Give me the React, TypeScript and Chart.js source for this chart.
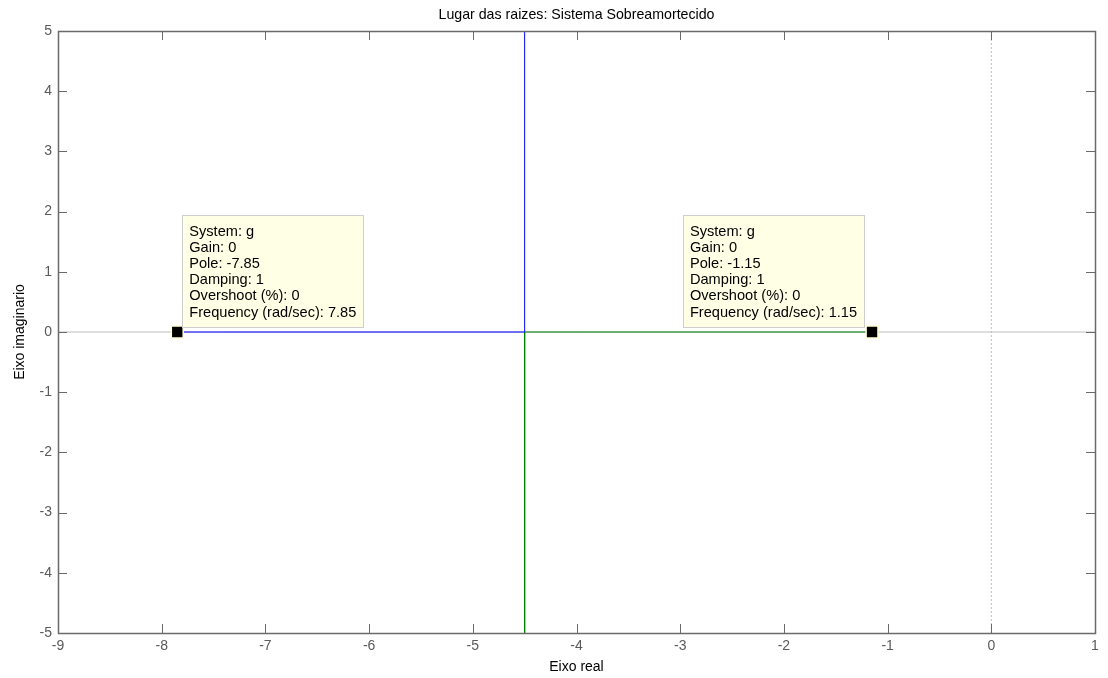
import React, { useEffect, useRef } from 'react';
import { Chart, registerables } from 'chart.js';

Chart.register(...registerables);

const xTicks = [-9, -8, -7, -6, -5, -4, -3, -2, -1, 0, 1];
const yTicks = [-5, -4, -3, -2, -1, 0, 1, 2, 3, 4, 5];
const poles = [-7.85, -1.15];
const blueX = [-7.85, -4.5, -4.5];
const blueY = [0, 0, 5];
const greenX = [-1.15, -4.5, -4.5];
const greenY = [0, 0, -5];
const tipLinesLeft = ['System: g', 'Gain: 0', 'Pole: -7.85', 'Damping: 1', 'Overshoot (%): 0', 'Frequency (rad/sec): 7.85'];
const tipLinesRight = ['System: g', 'Gain: 0', 'Pole: -1.15', 'Damping: 1', 'Overshoot (%): 0', 'Frequency (rad/sec): 1.15'];

const FONT = 'Liberation Sans, Arial, Helvetica, sans-serif';
const AXIS_COLOR = '#6a6a6a';
const TEXT_GRAY = '#5a5a5a';
const FS = 14;

const framePlugin = {
  id: 'frameTicks',
  afterDatasetsDraw(chart: any) {
    const { ctx, chartArea: a, scales } = chart;
    const xs = scales.x;
    const ys = scales.y;
    ctx.save();
    ctx.strokeStyle = AXIS_COLOR;
    ctx.lineWidth = 1;
    const tl = 9;
    ctx.beginPath();
    xTicks.forEach((v) => {
      const px = Math.round(xs.getPixelForValue(v)) + 0.5;
      ctx.moveTo(px, a.bottom);
      ctx.lineTo(px, a.bottom - tl);
      ctx.moveTo(px, a.top);
      ctx.lineTo(px, a.top + tl);
    });
    yTicks.forEach((v) => {
      const py = Math.round(ys.getPixelForValue(v)) + 0.5;
      ctx.moveTo(a.left, py);
      ctx.lineTo(a.left + tl, py);
      ctx.moveTo(a.right, py);
      ctx.lineTo(a.right - tl, py);
    });
    ctx.stroke();
    ctx.lineWidth = 1.5;
    ctx.strokeRect(Math.round(a.left) + 0.5, Math.round(a.top) + 0.5, Math.round(a.right - a.left), Math.round(a.bottom - a.top));
    ctx.restore();
  },
};

const tipsPlugin = {
  id: 'dataTips',
  afterDraw(chart: any) {
    const { ctx, scales } = chart;
    const xs = scales.x;
    const ys = scales.y;
    const tips = [
      { pole: poles[0], lines: tipLinesLeft, side: 'right' },
      { pole: poles[1], lines: tipLinesRight, side: 'left' },
    ];
    ctx.save();
    ctx.font = `14.6px ${FONT}`;
    tips.forEach((t) => {
      const px = xs.getPixelForValue(t.pole);
      const py = ys.getPixelForValue(0);
      const w = Math.max(...t.lines.map((l) => ctx.measureText(l).width)) + 14;
      const h = 112;
      const left = t.side === 'right' ? px + 5 : px - 8 - w;
      const top = py - 5 - h;
      ctx.fillStyle = '#ffffe6';
      ctx.fillRect(Math.round(left) + 0.5, Math.round(top) + 0.5, Math.round(w), h);
      ctx.strokeStyle = '#cfcfcf';
      ctx.lineWidth = 1;
      ctx.strokeRect(Math.round(left) + 0.5, Math.round(top) + 0.5, Math.round(w), h);
      ctx.fillStyle = '#000';
      ctx.textBaseline = 'middle';
      ctx.textAlign = 'left';
      t.lines.forEach((l, i) => {
        ctx.fillText(l, left + 7, top + 16.5 + i * 16.2);
      });
    });
    ctx.restore();
  },
};

export default function App() {
  const ref = useRef<HTMLCanvasElement | null>(null);
  useEffect(() => {
    document.body.style.margin = '0';
    const canvas = ref.current!;
    const chart = new Chart(canvas, {
      type: 'scatter',
      data: {
        datasets: [
          {
            label: 'poles',
            data: poles.map((p) => ({ x: p, y: 0 })),
            showLine: false,
            pointStyle: 'rect',
            pointRadius: 8.4,
            backgroundColor: '#000',
            borderColor: '#ffffd0',
            borderWidth: 1.5,
            order: 1,
          },
          {
            label: 'blue',
            data: blueX.map((x, i) => ({ x, y: blueY[i] })),
            showLine: true,
            borderColor: '#0000ff',
            borderWidth: 1,
            pointRadius: 0,
            order: 5,
          },
          {
            label: 'green',
            data: greenX.map((x, i) => ({ x, y: greenY[i] })),
            showLine: true,
            borderColor: '#008000',
            borderWidth: 1,
            pointRadius: 0,
            order: 5,
          },
          {
            label: 'zeroH',
            data: [{ x: xTicks[0], y: 0 }, { x: xTicks[xTicks.length - 1], y: 0 }],
            showLine: true,
            borderColor: '#bdbdbd',
            borderWidth: 1,
            pointRadius: 0,
            order: 10,
          },
          {
            label: 'zeroV',
            data: [{ x: 0, y: yTicks[0] }, { x: 0, y: yTicks[yTicks.length - 1] }],
            showLine: true,
            borderColor: '#bdbdbd',
            borderDash: [2, 2],
            borderWidth: 1,
            pointRadius: 0,
            order: 10,
          },
        ],
      },
      options: {
        animation: false,
        responsive: false,
        layout: { padding: { left: 0, right: 13, top: 0, bottom: 0 } },
        plugins: {
          legend: { display: false },
          tooltip: { enabled: false },
          title: {
            display: true,
            text: 'Lugar das raizes: Sistema Sobreamortecido',
            color: '#000',
            fullSize: false,
            font: { size: 14.2, family: FONT, weight: 'normal' },
            padding: { top: 6.5, bottom: 7.5 },
          },
        },
        scales: {
          x: {
            type: 'linear',
            min: -9,
            max: 1,
            afterBuildTicks: (s: any) => {
              s.ticks = xTicks.map((v) => ({ value: v }));
            },
            afterFit: (s: any) => {
              s.height = 45;
            },
            grid: { display: false, drawTicks: false },
            border: { display: false },
            ticks: { padding: 5, color: TEXT_GRAY, font: { size: FS, family: FONT } },
            title: {
              display: true,
              text: 'Eixo real',
              color: '#000',
              font: { size: FS, family: FONT },
              padding: { top: 0, bottom: 2.5 },
            },
          },
          y: {
            type: 'linear',
            min: -5,
            max: 5,
            afterBuildTicks: (s: any) => {
              s.ticks = yTicks.map((v) => ({ value: v }));
            },
            afterFit: (s: any) => {
              s.width = 58;
            },
            grid: { display: false, drawTicks: false },
            border: { display: false },
            ticks: { padding: 6, color: TEXT_GRAY, font: { size: FS, family: FONT } },
            title: {
              display: true,
              text: 'Eixo imaginario',
              color: '#000',
              font: { size: FS, family: FONT },
              padding: { top: 11.5, bottom: 0 },
            },
          },
        },
      },
      plugins: [framePlugin, tipsPlugin],
    } as any);
    return () => chart.destroy();
  }, []);
  return (
    <div style={{ width: 1108, height: 678 }}>
      <canvas ref={ref} width={1108} height={678} style={{ display: 'block', width: 1108, height: 678 }} />
    </div>
  );
}
